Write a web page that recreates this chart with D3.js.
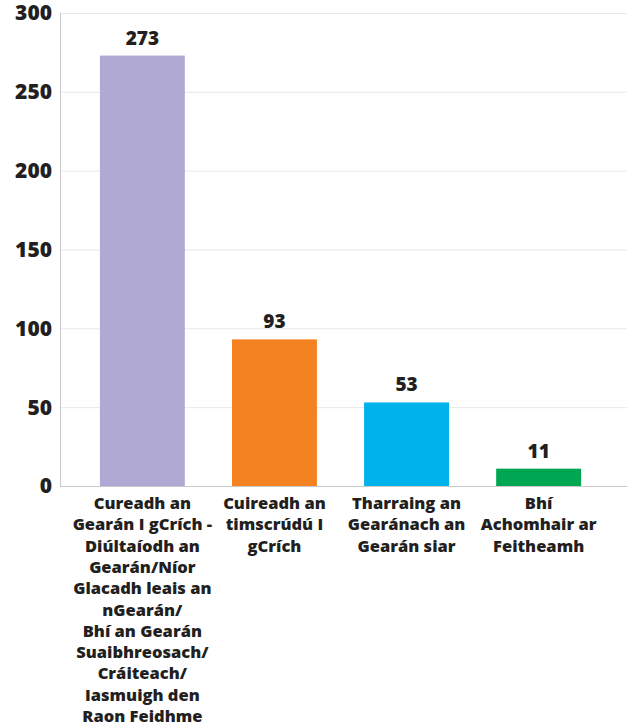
<!DOCTYPE html>
<html>
<head>
<meta charset="utf-8">
<script src="https://cdn.jsdelivr.net/npm/d3@7"></script>
<style>
  body { margin: 0; background: #fff; }
  svg text { font-family: "Open Sans", "DejaVu Sans", sans-serif; font-weight: 700; fill: #231f20; }
</style>
</head>
<body>
<svg id="chart" width="627" height="724"></svg>
<script>
// category labels, one entry per line
var categories = [
    ['Cureadh an', 'Gearán I gCrích -', 'Diúltaíodh an', 'Gearán/Níor', 'Glacadh leais an',
     'nGearán/', 'Bhí an Gearán', 'Suaibhreosach/', 'Cráiteach/', 'Iasmuigh den', 'Raon Feidhme'],
    ['Cuireadh an', 'timscrúdú I', 'gCrích'],
    ['Tharraing an', 'Gearánach an', 'Gearán siar'],
    ['Bhí', 'Achomhair ar', 'Feitheamh']
];
var values = [273, 93, 53, 11];
var colours = ['#afa9d4', '#f58220', '#00b2ec', '#00a651'];
var yTicks = [0, 50, 100, 150, 200, 250, 300];

var svg = d3.select('#chart'),
    plotLeft = 60, plotRight = 627, plotTop = 13, plotBottom = 486;

var x = d3.scaleBand()
    .domain(d3.range(values.length))
    .range([plotLeft, 621])
    .paddingInner(0.357)
    .paddingOuter(0.302);

var y = d3.scaleLinear().domain([0, 300]).range([plotBottom, plotTop]);

// gridlines
svg.append('g').selectAll('line')
    .data(yTicks.slice(1)).enter()
    .append('line')
    .attr('x1', plotLeft).attr('x2', plotRight)
    .attr('y1', function(d) { return y(d) + 0.5; })
    .attr('y2', function(d) { return y(d) + 0.5; })
    .attr('stroke', '#e8e8e8').attr('stroke-width', 1);

// y axis labels
svg.append('g').selectAll('text')
    .data(yTicks).enter()
    .append('text')
    .attr('x', 52)
    .attr('y', function(d) { return y(d); })
    .attr('dy', '0.35em')
    .attr('text-anchor', 'end')
    .style('font-size', '21px')
    .style('font-weight', 800)
    .text(function(d) { return d; });

// bars
svg.append('g').selectAll('rect')
    .data(values).enter()
    .append('rect')
    .attr('x', function(d, i) { return x(i); })
    .attr('y', function(d) { return y(d); })
    .attr('width', x.bandwidth())
    .attr('height', function(d) { return plotBottom - y(d); })
    .attr('fill', function(d, i) { return colours[i]; });

// axis lines
svg.append('line')
    .attr('x1', plotLeft + 0.5).attr('x2', plotLeft + 0.5)
    .attr('y1', plotTop).attr('y2', plotBottom + 1)
    .attr('stroke', '#c8c8c8');
svg.append('line')
    .attr('x1', plotLeft).attr('x2', plotRight)
    .attr('y1', plotBottom + 0.5).attr('y2', plotBottom + 0.5)
    .attr('stroke', '#c8c8c8');

// value labels
svg.append('g').selectAll('text')
    .data(values).enter()
    .append('text')
    .attr('x', function(d, i) { return x(i) + x.bandwidth() / 2; })
    .attr('y', function(d) { return y(d) - 11; })
    .attr('text-anchor', 'middle')
    .style('font-size', '19px')
    .style('font-weight', 800)
    .text(function(d) { return d; });

// category labels
var cats = svg.append('g').selectAll('text')
    .data(categories).enter()
    .append('text')
    .attr('text-anchor', 'middle')
    .style('font-size', '16.5px')
    .style('font-weight', 800);

cats.selectAll('tspan')
    .data(function(d, i) { return d.map(function(t) { return {t: t, i: i}; }); })
    .enter().append('tspan')
    .attr('x', function(d) { return x(d.i) + x.bandwidth() / 2; })
    .attr('y', function(d, j) { return 509 + j * 21.3; })
    .text(function(d) { return d.t; });
</script>
</body>
</html>
